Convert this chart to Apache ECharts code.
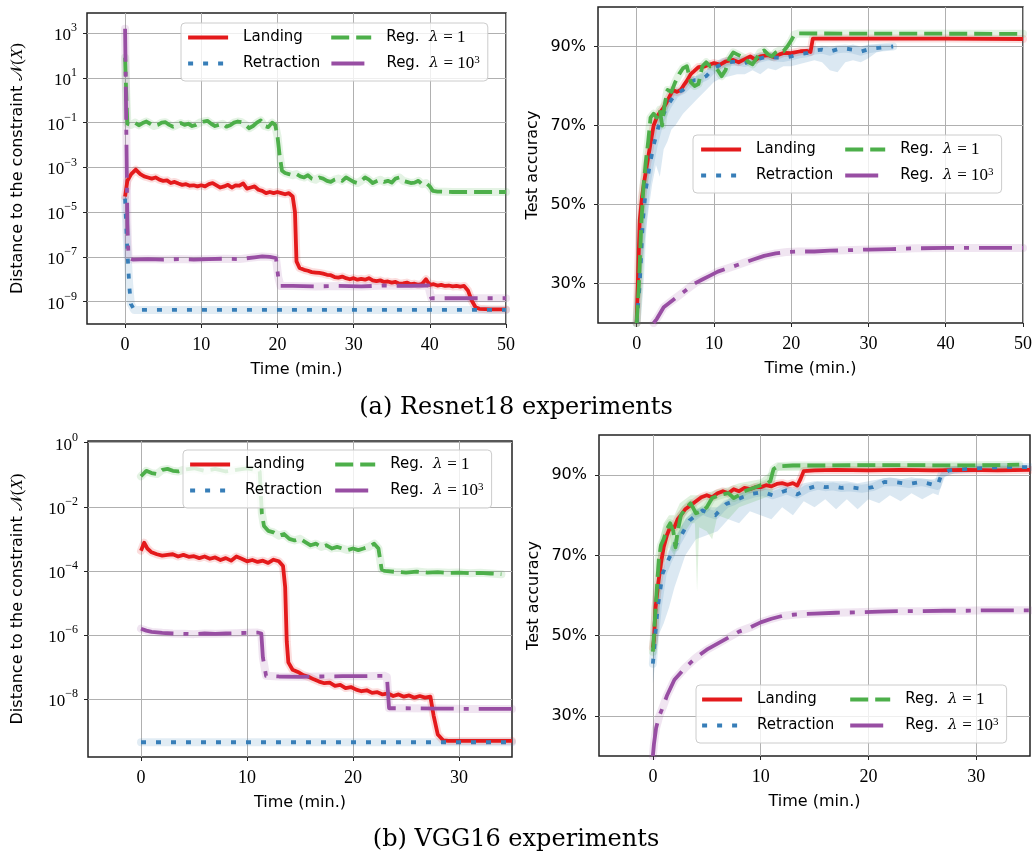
<!DOCTYPE html>
<html><head><meta charset="utf-8">
<script src="https://cdn.jsdelivr.net/npm/echarts@6/dist/echarts.min.js"></script>
<style>html,body{margin:0;padding:0;background:#fff}#c{width:1032px;height:856px}</style>
</head><body><div id="c"></div><script>
// ---------- tick values ----------
const resnetTimeTicks = [0, 10, 20, 30, 40, 50];
const vggTimeTicks = [0, 10, 20, 30];
const resnetDistExpTicks = [-9, -7, -5, -3, -1, 1, 3];
const vggDistExpTicks = [-8, -6, -4, -2, 0];
const accTicks = [30, 50, 70, 90];

// ---------- Resnet18: distance to constraint (log10 of value) ----------
const resnetDistLanding = [[0,-4.3],[0.3,-3.6],[0.8,-3.3],[1.4,-3.1],[2,-3.3],[2.5,-3.4],[3,-3.45],[3.5,-3.5],[4,-3.45],[4.5,-3.55],[5,-3.6],[5.5,-3.58],[6,-3.7],[6.5,-3.65],[7,-3.72],[7.5,-3.78],[8,-3.75],[8.5,-3.82],[9,-3.8],[9.5,-3.85],[10,-3.8],[10.5,-3.85],[11,-3.75],[11.5,-3.7],[12,-3.8],[12.5,-3.9],[13,-3.85],[13.5,-3.78],[14,-3.9],[14.5,-3.8],[15,-3.82],[15.5,-3.72],[16,-3.95],[16.5,-3.9],[17,-3.85],[17.5,-4.0],[18,-4.05],[18.5,-4.15],[19,-4.1],[19.5,-4.15],[20,-4.1],[20.5,-4.15],[21,-4.2],[21.5,-4.15],[22,-4.3],[22.3,-5.0],[22.5,-7.2],[22.9,-7.5],[23.5,-7.58],[24,-7.62],[24.5,-7.68],[25,-7.7],[25.5,-7.72],[26,-7.75],[26.5,-7.8],[27,-7.82],[27.5,-7.9],[28,-7.93],[28.5,-7.88],[29,-7.95],[29.5,-8.0],[30,-7.95],[30.5,-8.02],[31,-7.98],[31.5,-8.02],[32,-7.95],[32.5,-8.05],[33,-8.08],[33.5,-8.05],[34,-8.12],[34.5,-8.1],[35,-8.15],[35.5,-8.12],[36,-8.2],[36.5,-8.18],[37,-8.15],[37.5,-8.22],[38,-8.2],[38.5,-8.25],[39,-8.2],[39.5,-8.0],[40,-8.25],[40.5,-8.22],[41,-8.28],[41.5,-8.25],[42,-8.3],[42.5,-8.28],[43,-8.32],[43.5,-8.3],[44,-8.33],[44.5,-8.3],[45,-8.5],[45.5,-8.95],[46,-9.25],[46.5,-9.32],[48,-9.35],[50,-9.35]];
const resnetDistRetraction = [[0,-4.4],[0.25,-6.4],[0.55,-8.3],[0.75,-9.1],[1.2,-9.37],[50,-9.37]];
const resnetDistReg1 = [[0,1.9],[0.15,0.3],[0.3,-1.05],[0.8,-1.1],[1.3,-1.0],[1.8,-1.12],[2.3,-1.02],[2.8,-0.95],[3.3,-1.05],[3.8,-1.15],[4.3,-1.1],[4.8,-1.0],[5.3,-0.98],[5.8,-1.1],[6.3,-1.18],[6.8,-1.1],[7.3,-1.02],[7.8,-1.1],[8.3,-1.05],[8.8,-1.15],[9.3,-1.1],[9.8,-1.0],[10.3,-0.95],[10.8,-0.92],[11.3,-1.05],[11.8,-1.15],[12.3,-1.1],[12.8,-1.05],[13.3,-1.18],[13.8,-1.12],[14.3,-1.0],[14.8,-0.95],[15.3,-0.98],[15.8,-1.1],[16.3,-1.25],[16.8,-1.15],[17.3,-1.0],[17.8,-0.9],[18.3,-1.15],[18.8,-1.2],[19.3,-1.0],[19.7,-1.1],[20.0,-1.6],[20.3,-2.5],[20.6,-3.15],[21,-3.25],[21.5,-3.3],[22,-3.35],[22.5,-3.3],[23,-3.4],[23.5,-3.45],[24,-3.35],[24.5,-3.5],[25,-3.55],[25.5,-3.45],[26,-3.5],[26.5,-3.6],[27,-3.65],[27.5,-3.55],[28,-3.5],[28.5,-3.6],[29,-3.45],[29.5,-3.55],[30,-3.65],[30.5,-3.7],[31,-3.6],[31.5,-3.45],[32,-3.55],[32.5,-3.7],[33,-3.62],[33.5,-3.55],[34,-3.65],[34.5,-3.6],[35,-3.68],[35.5,-3.5],[36,-3.45],[36.5,-3.6],[37,-3.65],[37.5,-3.7],[38,-3.68],[38.5,-3.6],[39,-3.75],[39.5,-3.7],[40,-3.85],[40.4,-4.05],[41,-4.08],[43,-4.1],[46,-4.1],[50,-4.1]];
const resnetDistReg1000 = [[0,3.2],[0.1,0.5],[0.2,-2.5],[0.3,-5.5],[0.45,-7.05],[1,-7.12],[3,-7.1],[5,-7.12],[7,-7.1],[9,-7.12],[11,-7.1],[13,-7.08],[15,-7.1],[17,-7.02],[18,-6.98],[19,-7.0],[19.8,-7.05],[20.1,-7.9],[20.4,-8.3],[22,-8.3],[25,-8.32],[28,-8.3],[31,-8.32],[34,-8.28],[37,-8.3],[39.8,-8.28],[40.2,-8.85],[42,-8.85],[45,-8.85],[50,-8.85]];

// ---------- Resnet18: test accuracy (%) ----------
const resnetAccLanding = [[0,20],[0.2,33],[0.4,46],[0.7,52],[1.0,56],[1.2,58.5],[1.5,62],[1.8,65.5],[2.2,70],[2.7,72.5],[3.3,74],[3.8,75.5],[4.3,77.5],[4.7,79],[5.2,78.5],[5.7,79],[6.2,80.5],[6.6,81.6],[7.0,83],[7.4,83.7],[8.0,84.8],[8.7,84.9],[9.3,85.3],[10,85.8],[10.8,85.4],[11.5,86.2],[12.5,86.6],[13.2,86],[14,86.8],[14.7,87.5],[15.4,86.6],[16,87.5],[17,87.8],[17.8,87.3],[18.5,88],[19.1,88.4],[20,88.3],[21.2,88.8],[22,88.9],[22.5,88.6],[22.8,92.0],[24,92.0],[30,92.0],[40,92.0],[50,91.9]];
const resnetAccRetraction = [[0,20],[0.4,30],[0.8,46],[1.2,54],[1.7,60],[2.2,65],[2.6,68],[3.0,71],[3.5,73],[4.0,75],[4.5,76.5],[5.0,78],[5.5,78.5],[6.0,79],[6.5,80],[7.0,81],[7.5,81.5],[8,81.5],[8.5,82],[9,82.5],[9.5,83.5],[10,84.5],[10.5,85],[11,85.5],[11.5,85.8],[12,86],[13,86.2],[14,85.8],[15,86.5],[16,87],[17,87.5],[18,87.2],[19,87.1],[20,87.5],[21,88],[22,88.3],[23,89],[24,89.2],[25,88.7],[26,89.3],[27,89.5],[28,89.2],[29,88.7],[30,89.3],[31,89.6],[32,89.8],[33.2,90]];
const resnetAccReg1 = [[0,20],[0.3,30],[0.6,45],[0.9,55],[1.2,61],[1.5,66],[1.8,72],[2.2,73],[2.6,72],[3.0,74],[3.3,70],[3.6,75],[4.0,79],[4.5,78.5],[5.0,81],[5.5,83],[6.0,84.5],[6.5,85],[7.0,81],[7.5,80],[8.0,80.5],[8.5,85],[9.0,86],[9.5,85],[10,85],[10.5,84],[11,82.5],[11.5,84],[12,87],[12.5,88.5],[13,88],[13.5,87.5],[14,87],[14.5,86],[15,85.5],[15.5,87],[16,88.5],[16.5,89],[17,88],[17.5,87.5],[18,88.5],[18.5,89],[19,88.8],[19.5,90],[20,91.5],[20.4,93],[21,93.3],[50,93.2]];
const resnetAccReg1000 = [[2.2,20],[2.6,21],[3.5,24],[4.5,25.5],[5.5,27],[6.5,28.5],[7.5,30],[8.5,31],[9.5,32],[10.5,33],[12,34],[13.5,35],[15,36],[16.5,37],[18,37.6],[19.5,38],[21,38.1],[23,38.1],[25,38.3],[27,38.4],[30,38.6],[33,38.7],[36,38.9],[40,39],[45,39],[50,39]];
// shaded spread [time, low, high]
const resnetAccRetractionSpread = [[0.3,22,30],[0.6,32,44],[1,40,53],[1.5,48,60],[2,55,66],[2.5,60,70],[3,57,73],[3.5,64,75],[4,66,77],[4.5,69,78],[5,70,79],[6,73,80],[7,75,82],[8,77,83],[9,79,84],[10,81,86],[11,82,87],[12,82.5,87.5],[13,83,87.5],[14,83,87.5],[15,84,88],[16,83,88.5],[17,84.5,88.5],[18,84,88.5],[19,85,88.5],[20,85,89],[21,85.5,89],[22,86,89.5],[23,86.5,90],[24,86,90],[25,84,90],[26,83.5,90],[27,86,90],[28,86.5,90.5],[29,86,90],[30,87,90.5],[31,88.5,90.5],[32,89,90.5],[33.2,89.2,90.5]];

// ---------- VGG16: distance to constraint (log10 of value) ----------
const vggDistLanding = [[0,-3.37],[0.3,-3.12],[0.6,-3.3],[1,-3.42],[1.5,-3.48],[2,-3.52],[2.5,-3.5],[3,-3.48],[3.5,-3.55],[4,-3.5],[4.5,-3.56],[5,-3.54],[5.5,-3.6],[6,-3.55],[6.5,-3.62],[7,-3.58],[7.5,-3.66],[8,-3.6],[8.5,-3.68],[9,-3.55],[9.5,-3.62],[10,-3.7],[10.5,-3.66],[11,-3.72],[11.5,-3.68],[12,-3.75],[12.5,-3.65],[13,-3.7],[13.4,-3.85],[13.6,-4.5],[13.75,-6.2],[13.9,-6.85],[14.3,-7.08],[14.8,-7.15],[15.3,-7.25],[15.8,-7.3],[16.3,-7.38],[16.8,-7.45],[17.3,-7.5],[17.8,-7.48],[18.3,-7.58],[18.8,-7.55],[19.3,-7.65],[19.8,-7.62],[20.3,-7.7],[20.8,-7.75],[21.3,-7.72],[21.8,-7.8],[22.3,-7.78],[22.8,-7.85],[23.3,-7.82],[23.8,-7.9],[24.3,-7.85],[24.8,-7.92],[25.3,-7.88],[25.8,-7.95],[26.3,-7.9],[26.8,-7.95],[27.3,-7.92],[27.6,-8.5],[28,-9.1],[28.5,-9.28],[29,-9.3],[35,-9.3]];
const vggDistRetraction = [[0,-9.34],[35,-9.34]];
const vggDistReg1 = [[0,-1.05],[0.5,-0.88],[1,-0.95],[1.5,-0.98],[2,-0.85],[2.5,-0.82],[3,-0.88],[3.5,-0.9],[4,-0.85],[5,-0.8],[6,-0.88],[7,-0.82],[8,-0.9],[9,-0.85],[10,-0.8],[10.8,-0.85],[11.2,-0.9],[11.4,-2.2],[11.6,-2.6],[12,-2.75],[12.5,-2.8],[13,-2.9],[13.5,-2.85],[14,-3.0],[14.5,-3.05],[15,-3.0],[15.5,-3.1],[16,-3.2],[16.5,-3.15],[17,-3.25],[17.5,-3.2],[18,-3.3],[18.5,-3.25],[19,-3.3],[19.5,-3.35],[20,-3.3],[20.5,-3.35],[21,-3.3],[21.5,-3.25],[22,-3.15],[22.4,-3.3],[22.7,-3.95],[23,-4.0],[24,-4.03],[25,-4.05],[26,-4.02],[27,-4.05],[28,-4.04],[29,-4.06],[30,-4.05],[31,-4.07],[32,-4.06],[33,-4.08],[34,-4.1]];
const vggDistReg1000 = [[0,-5.8],[0.5,-5.86],[1,-5.9],[2,-5.93],[3,-5.95],[4,-5.96],[5,-5.97],[6,-5.95],[7,-5.96],[8,-5.95],[9,-5.94],[10,-5.93],[11,-5.92],[11.35,-5.95],[11.5,-6.7],[11.8,-7.27],[13,-7.29],[15,-7.3],[17,-7.29],[19,-7.28],[21,-7.28],[23,-7.27],[23.2,-7.3],[23.4,-8.28],[25,-8.28],[28,-8.29],[31,-8.3],[35,-8.3]];

// ---------- VGG16: test accuracy (%) ----------
const vggAccLanding = [[0,47],[0.1,49],[0.25,57],[0.5,63],[0.75,68],[1.0,72],[1.3,75],[1.6,77],[2.0,77],[2.3,79],[2.6,80],[3.0,81.5],[3.5,82.5],[4.0,83.5],[4.5,84.5],[5,85],[5.5,84.5],[6,85.5],[6.5,86],[7,85.5],[7.5,86.5],[8,86],[8.5,86.8],[9,86.5],[9.5,87],[10,87],[10.5,87.5],[11,87.2],[11.5,87.8],[12,88],[12.5,87.6],[13,88],[13.4,87.4],[13.7,89],[14,91],[15,91.2],[17,91.3],[20,91.2],[23,91.3],[26,91.2],[29,91.3],[32,91.2],[35,91.3]];
const vggAccRetraction = [[0,43],[0.2,49.7],[0.45,57],[0.9,65.4],[1.4,68.7],[2,72],[2.7,75.3],[3.4,78.7],[4,80],[4.6,81.2],[5.2,80.5],[5.8,80],[6.3,81.5],[6.8,82.8],[7.5,83.5],[8.3,84.5],[9.3,85.4],[10.2,85.8],[11.1,85],[11.8,85.6],[12.4,86.2],[13.4,85.2],[14.3,86.6],[15.3,87.4],[16,87],[16.7,87.2],[17.5,86.8],[18.2,87],[19.4,86.6],[20.4,87],[21.5,88.3],[22.6,88.2],[23.8,87.8],[24.9,88.3],[25.6,87.9],[26.4,87.3],[26.8,90.3],[27.5,91.2],[29.4,91.6],[32.2,92],[35,92]];
const vggAccReg1 = [[0,46],[0.1,50],[0.3,59],[0.55,69],[0.75,72.5],[1.0,74],[1.3,76.5],[1.6,78],[1.9,76],[2.1,72],[2.3,76],[2.6,80],[3.0,81.5],[3.5,83],[4.0,80.5],[4.5,81],[5.0,82],[5.5,84.3],[6.0,84.8],[6.5,85.2],[7.0,85.5],[7.5,84.3],[8.0,85],[8.5,86],[9,86.5],[9.5,87],[10,87.5],[10.5,87.8],[10.9,88.5],[11.2,91.5],[11.6,92.2],[13,92.4],[16,92.4],[20,92.5],[24,92.5],[28,92.4],[32,92.5],[34,92.6]];
const vggAccReg1000 = [[0,20],[0.1,23],[0.3,27],[0.6,30],[0.9,32],[1.3,35],[2,39],[3,42],[4,44.5],[5,46.5],[6,48],[7,49.5],[8,51],[9,52],[10,53.3],[11,54.2],[12,54.9],[13,55.2],[14,55.4],[15,55.5],[17,55.7],[19,55.8],[21,56],[23,56.1],[25,56.1],[27,56.2],[29,56.2],[31,56.3],[33,56.3],[35,56.3]];
// shaded spread [time, low, high]
const vggAccRetractionSpread = [[0,38,45],[0.5,50,60],[1,53,67],[1.5,57,71],[2,62,74],[3,70,79],[4,74,81.5],[5,75,82],[6,76,82],[7,79,84],[8,78,85.5],[9,81,86.5],[10,80,87],[11,79,86.5],[12,82,87.5],[13,80,87],[14,83.5,88],[15,82,88.5],[16,84,88.5],[17,81.5,88.5],[18,84,88.5],[19,81.5,88],[20,84,88.5],[21,83,89],[22,85,89.5],[23,83.5,89],[24,85.5,89.5],[25,84,89],[26,85.5,89],[26.5,85,89.5],[27,89.5,91.8],[28,90.5,92.2],[35,91.5,92.5]];
const vggAccReg1Spread = [[0,44,48],[0.5,62,72],[1,68,78],[1.5,72,80],[2,70,80],[2.5,75,83],[3,76,84],[3.5,78,85],[3.9,78,85],[4.1,61,85],[4.3,77,85],[5,76,85.5],[5.5,74,86],[6,80,86.5],[7,79,87],[8,82,88],[9,83,88.5],[10,84,89],[11,85,91],[11.6,91,93],[34,91.8,93]];

// ---------- styles ----------
const SANS = "'DejaVu Sans', sans-serif";
const SERIF = "'Liberation Serif', serif";
const COLORS = { Landing: '#e41a1c', Retraction: '#377eb8', Reg1: '#4daf4a', Reg1000: '#984ea3' };
const DASH = { Landing: 'solid', Retraction: [5, 10], Reg1: [18, 7], Reg1000: [33, 10, 5, 10] };

const grids = [
  { left: 87, top: 13, width: 419, height: 311 },
  { left: 598, top: 7, width: 425, height: 316 },
  { left: 88, top: 441, width: 424, height: 316 },
  { left: 599, top: 435, width: 431, height: 321 }
];

function expLabel(v) {
  const e = v < 0 ? '\u2212' + Math.abs(v) : String(v);
  return '{b|10}{s|' + e + '}';
}
const expRich = {
  b: { fontFamily: SERIF, fontSize: 17, lineHeight: 22, verticalAlign: 'bottom', color: '#000' },
  s: { fontFamily: SERIF, fontSize: 12, lineHeight: 12, verticalAlign: 'top', color: '#000' }
};

function xAxisCfg(gi, max, ticks) {
  return {
    type: 'value', gridIndex: gi, min: -5, max: max,
    axisLine: { show: false, onZero: false },
    axisTick: { show: true, length: 4, customValues: ticks, lineStyle: { color: '#222', width: 1 } },
    axisLabel: { customValues: ticks, margin: 12, fontFamily: SERIF, fontSize: 18, color: '#000' },
    splitLine: { show: true, lineStyle: { color: '#b0b0b0', width: 1 } },
    name: 'Time (min.)', nameLocation: 'middle', nameGap: 38,
    nameTextStyle: { fontFamily: SANS, fontSize: 16, color: '#000' }
  };
}
function yDistCfg(gi, min, max, ticks, gap) {
  return {
    type: 'value', gridIndex: gi, min: min, max: max,
    axisLine: { show: false, onZero: false },
    axisTick: { show: true, length: 4, customValues: ticks, lineStyle: { color: '#222', width: 1 } },
    axisLabel: { customValues: ticks, margin: 10, formatter: expLabel, rich: expRich },
    splitLine: { show: true, lineStyle: { color: '#b0b0b0', width: 1 } },
    name: '{a|Distance to the constraint }{n|\uD835\uDCA9}{p|(}{x|X}{p|)}',
    nameLocation: 'middle', nameGap: gap,
    nameTextStyle: { fontFamily: SANS, fontSize: 16, color: '#000',
      rich: { a: { fontFamily: SANS, fontSize: 16 }, n: { fontFamily: SERIF, fontSize: 17 }, p: { fontFamily: SERIF, fontSize: 17 }, x: { fontFamily: SERIF, fontStyle: 'italic', fontSize: 17 } } }
  };
}
function yAccCfg(gi, gap) {
  return {
    type: 'value', gridIndex: gi, min: 20, max: 100,
    axisLine: { show: false, onZero: false },
    axisTick: { show: true, length: 4, customValues: accTicks, lineStyle: { color: '#222', width: 1 } },
    axisLabel: { customValues: accTicks, margin: 12, fontFamily: SANS, fontSize: 16, color: '#000', formatter: v => v + '%' },
    splitLine: { show: true, lineStyle: { color: '#b0b0b0', width: 1 } },
    name: 'Test accuracy', nameLocation: 'middle', nameGap: gap,
    nameTextStyle: { fontFamily: SANS, fontSize: 16, color: '#000' }
  };
}

const series = [];
function addSpread(gi, name, spread) {
  series.push({
    type: 'custom', name: name + ' spread', xAxisIndex: gi, yAxisIndex: gi, data: spread,
    silent: true, z: 0, animation: false, clip: true,
    encode: { x: 0, y: [1, 2] },
    renderItem: function (params, api) {
      if (params.dataIndex !== 0) return null;
      const up = spread.map(p => api.coord([p[0], p[2]]));
      const lo = spread.slice().reverse().map(p => api.coord([p[0], p[1]]));
      return { type: 'polygon', shape: { points: up.concat(lo) }, style: { fill: COLORS[name], opacity: 0.18 } };
    }
  });
}
function addSeries(gi, name, data) {
  series.push({
    type: 'line', name: name + ' band', xAxisIndex: gi, yAxisIndex: gi, data: data,
    symbol: 'none', silent: true, z: 1, animation: false,
    lineStyle: { color: COLORS[name], width: 8, opacity: 0.15, cap: 'round', join: 'round' }
  });
  series.push({
    type: 'line', name: name, xAxisIndex: gi, yAxisIndex: gi, data: data,
    symbol: 'none', showSymbol: false, z: 2, animation: false,
    itemStyle: { color: COLORS[name] },
    lineStyle: { color: COLORS[name], width: 3.8, type: DASH[name], cap: 'butt', join: 'round' }
  });
}
addSpread(1, 'Retraction', resnetAccRetractionSpread);
addSpread(3, 'Retraction', vggAccRetractionSpread);
addSpread(3, 'Reg1', vggAccReg1Spread);
const plotData = [
  [resnetDistLanding, resnetDistRetraction, resnetDistReg1, resnetDistReg1000],
  [resnetAccLanding, resnetAccRetraction, resnetAccReg1, resnetAccReg1000],
  [vggDistLanding, vggDistRetraction, vggDistReg1, vggDistReg1000],
  [vggAccLanding, vggAccRetraction, vggAccReg1, vggAccReg1000]
];
const names = ['Landing', 'Retraction', 'Reg1', 'Reg1000'];
plotData.forEach((arrs, gi) => arrs.forEach((d, k) => addSeries(gi, names[k], d)));

function legendCfg(left, top, padLeft, col1W) {
  return {
    left: left, top: top, orient: 'horizontal', width: 320,
    itemWidth: 40, itemHeight: 14, itemGap: 9,
    padding: [6, 8, 9, padLeft],
    backgroundColor: 'rgba(255,255,255,0.8)', borderColor: '#cccccc', borderWidth: 1, borderRadius: 4,
    selectedMode: false,
    itemStyle: { opacity: 0, borderWidth: 0 },
    lineStyle: { width: 4.2 },
    data: [
      { name: 'Landing', textStyle: { width: col1W } },
      { name: 'Reg1', textStyle: { width: 90 } },
      { name: 'Retraction', textStyle: { width: col1W } },
      { name: 'Reg1000', textStyle: { width: 90 } }
    ],
    formatter: function (n) {
      if (n === 'Reg1') return '{r|Reg.}  {m|\u03BB} {e|= 1}';
      if (n === 'Reg1000') return '{r|Reg.}  {m|\u03BB} {e|= 10}{s|3}';
      return '{r|' + n + '}';
    },
    textStyle: {
      fontFamily: SANS, fontSize: 15, color: '#000', lineHeight: 17, padding: [0, 0, 0, 10],
      rich: {
        r: { fontFamily: SANS, fontSize: 15, lineHeight: 17, color: '#000' },
        m: { fontFamily: "'DejaVu Serif', serif", fontStyle: 'italic', fontSize: 15, lineHeight: 17, color: '#000' },
        e: { fontFamily: SERIF, fontSize: 17, lineHeight: 17, color: '#000' },
        s: { fontFamily: SERIF, fontSize: 11, lineHeight: 11, verticalAlign: 'top', color: '#000' }
      }
    }
  };
}

const option = {
  animation: false,
  backgroundColor: '#fff',
  title: [
    { text: '(a) Resnet18 experiments', left: 'center', top: 396, padding: 0,
      textStyle: { fontFamily: "'DejaVu Serif', serif", fontSize: 24, fontWeight: 'normal', color: '#000' } },
    { text: '(b) VGG16 experiments', left: 'center', top: 828, padding: 0,
      textStyle: { fontFamily: "'DejaVu Serif', serif", fontSize: 24, fontWeight: 'normal', color: '#000' } }
  ],
  grid: grids.map(g => Object.assign({ show: true, borderColor: '#222', borderWidth: 1.5, backgroundColor: 'transparent', containLabel: false, outerBoundsMode: 'none' }, g)),
  xAxis: [xAxisCfg(0, 50, resnetTimeTicks), xAxisCfg(1, 50, resnetTimeTicks), xAxisCfg(2, 35, vggTimeTicks), xAxisCfg(3, 35, vggTimeTicks)],
  yAxis: [yDistCfg(0, -10, 3.9, resnetDistExpTicks, 61), yAccCfg(1, 57), yDistCfg(2, -9.8, 0.05, vggDistExpTicks, 62), yAccCfg(3, 57)],
  legend: [legendCfg(181, 23, 5, 77), legendCfg(693, 135, 6, 78), legendCfg(183, 450, 5, 79), legendCfg(696, 685, 4, 82)],
  series: series
};
const chart = echarts.init(document.getElementById('c'), null, { renderer: 'canvas' });
chart.setOption(option);
</script></body></html>
